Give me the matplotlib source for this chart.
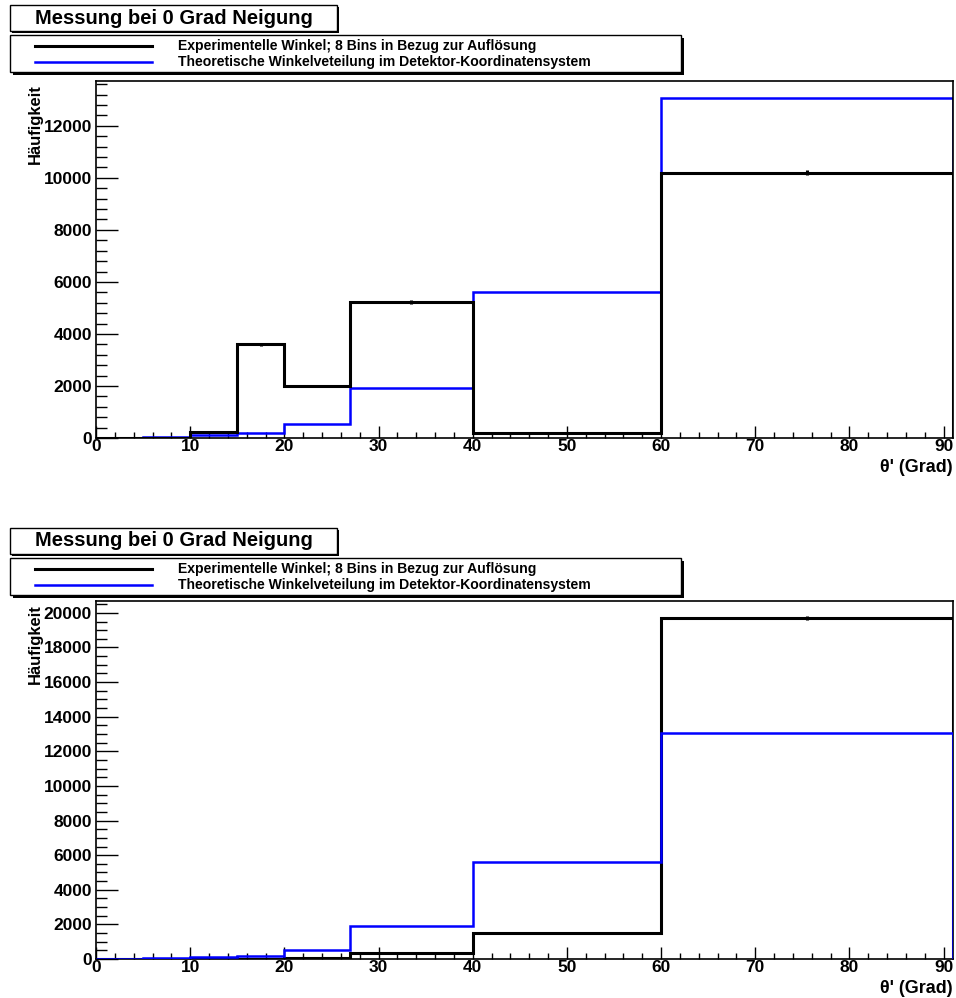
import numpy as np
import matplotlib
matplotlib.use('Agg')
import matplotlib.pyplot as plt
from matplotlib.patches import Rectangle
from matplotlib.lines import Line2D
from matplotlib.ticker import MultipleLocator

plt.rcParams['font.family'] = ['Liberation Sans', 'DejaVu Sans']
plt.rcParams['font.weight'] = 'bold'
plt.rcParams['axes.labelweight'] = 'bold'

# bin edges in degrees (8 bins)
edges = [0, 5, 10, 15, 20, 27, 40, 60, 91]

# counts per bin
exp_top = [0, 0, 220, 3600, 1990, 5220, 190, 10200]
exp_bottom = [0, 0, 10, 20, 40, 350, 1530, 19700]
theo = [5, 40, 105, 185, 530, 1910, 5610, 13070]

title_text = 'Messung bei 0 Grad Neigung'
leg_exp = 'Experimentelle Winkel; 8 Bins in Bezug zur Auflösung'
leg_theo = 'Theoretische Winkelveteilung im Detektor-Koordinatensystem'
xlab = "θ' (Grad)"
ylab = 'Häufigkeit'

W, H = 956, 998
fig = plt.figure(figsize=(W / 100, H / 100), dpi=100)


def fx(px):
    return px / W


def fy(py):
    return 1 - py / H


def box(x0, y0, x1, y1, shadow):
    # ROOT style pave with a shadow on the right/bottom
    fig.patches.append(Rectangle((fx(x0 + shadow), fy(y1 + shadow)), fx(x1 - x0), (y1 - y0) / H,
                                 transform=fig.transFigure, facecolor='black', edgecolor='black', lw=0))
    fig.patches.append(Rectangle((fx(x0), fy(y1)), fx(x1 - x0), (y1 - y0) / H,
                                 transform=fig.transFigure, facecolor='white', edgecolor='black', lw=1.0))


def panel(top_px, bottom_px, off, exp, minor_y, black_on_top):
    # title and legend
    box(10, 5 + off, 337, 31 + off, 2)
    fig.text(fx(173.5), fy(18 + off), title_text, ha='center', va='center', fontsize=14.5)
    box(10, 35 + off, 681, 72 + off, 3)
    for yy, col, lw, txt in [(46, 'black', 2.2, leg_exp), (62, '#0000ff', 1.8, leg_theo)]:
        fig.lines.append(Line2D([fx(35), fx(152)], [fy(yy + off), fy(yy + off)],
                                transform=fig.transFigure, color=col, lw=lw))
        fig.text(fx(178), fy(yy + off), txt, ha='left', va='center', fontsize=10.1)

    ax = fig.add_axes([fx(96), fy(bottom_px), fx(953 - 96), (bottom_px - top_px) / H])
    zb, zt = (3, 2) if black_on_top else (2, 3)
    ax.stairs(exp, edges, baseline=0, color='black', lw=2.2, zorder=zb)
    ax.stairs(theo, edges, baseline=0, color='#0000ff', lw=1.8, zorder=zt)
    centers = 0.5 * (np.array(edges[:-1]) + np.array(edges[1:]))
    vals = np.array(exp, dtype=float)
    m = vals > 0
    ax.errorbar(centers[m], vals[m], yerr=np.sqrt(vals[m]), fmt='none', ecolor='black',
                elinewidth=2.2, capsize=0, zorder=zb)

    ax.set_xlim(edges[0], edges[-1])
    ax.set_ylim(0, 1.05 * max(max(exp), max(theo)))
    ax.xaxis.set_major_locator(MultipleLocator(10))
    ax.xaxis.set_minor_locator(MultipleLocator(2))
    ax.yaxis.set_major_locator(MultipleLocator(2000))
    ax.yaxis.set_minor_locator(MultipleLocator(minor_y))
    ax.tick_params(axis='both', which='both', direction='in', top=False, right=False,
                   width=1.0, labelsize=12.5)
    ax.tick_params(axis='y', which='major', length=15.5, pad=3)
    ax.tick_params(axis='y', which='minor', length=7.7)
    ax.tick_params(axis='x', which='major', length=8.6, pad=1)
    ax.tick_params(axis='x', which='minor', length=4.3)
    for s in ax.spines.values():
        s.set_linewidth(1.2)

    ax.set_xlabel(xlab, loc='right', fontsize=13)
    ax.xaxis.set_label_coords(1.0, -0.058)
    ax.set_ylabel(ylab, loc='top', fontsize=12)
    ax.yaxis.set_label_coords(-0.062, 0.99)
    return ax


panel(81, 438, 0, exp_top, 400, True)
panel(601, 959, 523, exp_bottom, 500, False)

fig.savefig('out.png', dpi=100)
